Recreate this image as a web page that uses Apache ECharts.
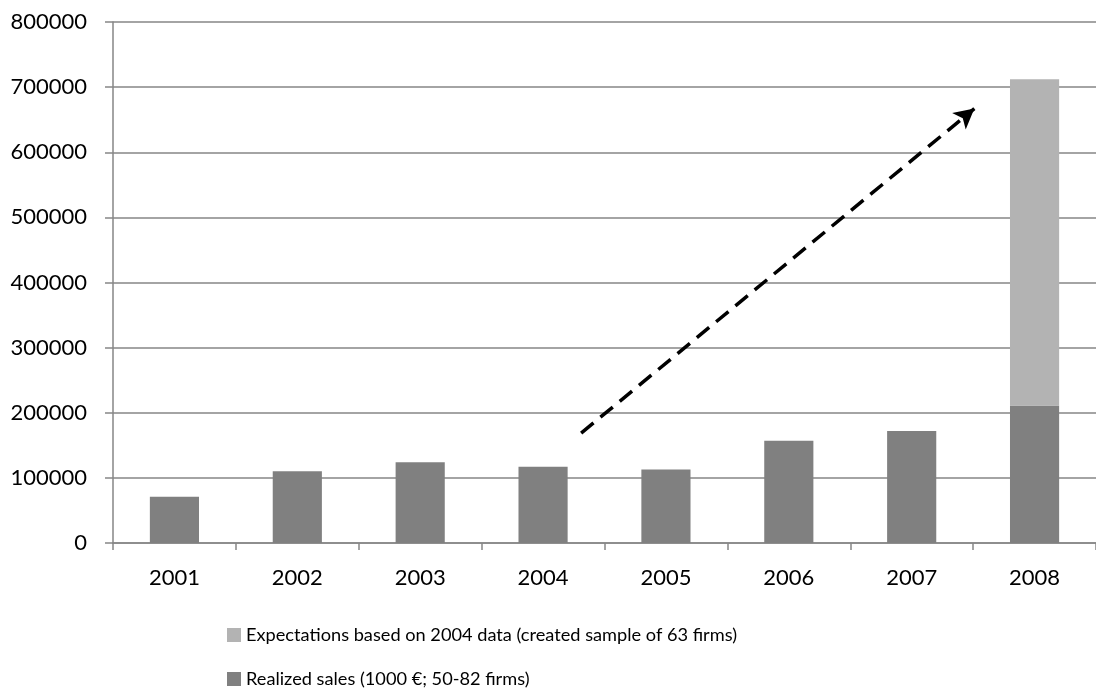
<!DOCTYPE html>
<html><head><meta charset="utf-8">
<script src="https://cdn.jsdelivr.net/npm/echarts@6/dist/echarts.min.js"></script>
<style>html,body{margin:0;padding:0;background:#fff}#c{width:1096px;height:693px}</style>
</head><body><div id="c"></div>
<script>
const categories = ['2001','2002','2003','2004','2005','2006','2007','2008'];
const realized = [71000, 110000, 124000, 117000, 113000, 157000, 172000, 211000];
const expectations = [null, null, null, null, null, null, null, 501000];
const yTicks = [0, 100000, 200000, 300000, 400000, 500000, 600000, 700000, 800000];
const arrowStart = [3.81, 168700];
const arrowEnd = [7.01, 667000];
const nameExp = 'Expectations based on 2004 data (created sample of 63 firms)';
const nameReal = 'Realized sales (1000 €; 50-82 firms)';
const FONT = 'Lato';
const chart = echarts.init(document.getElementById('c'));
chart.setOption({
  animation: false,
  textStyle: {fontFamily: FONT},
  grid: {left: 113, right: -5, top: 22, bottom: 150},
  legend: {
    orient: 'vertical', left: 227, top: 626, height: 100, padding: 0, itemGap: 26,
    itemWidth: 14, itemHeight: 14, icon: 'rect', itemStyle: {borderWidth: 0},
    data: [nameExp, nameReal],
    textStyle: {fontFamily: FONT, fontSize: 18.2, color: '#000'}
  },
  xAxis: [{
    type: 'category', data: categories,
    axisLine: {lineStyle: {color: '#868686', width: 1.5}},
    axisTick: {show: true, length: 7, lineStyle: {color: '#868686', width: 1.5}},
    axisLabel: {fontSize: 22, color: '#000', margin: 24, fontFamily: FONT}
  }, {
    type: 'value', min: 0, max: 8, show: false
  }],
  yAxis: [{
    type: 'value', min: yTicks[0], max: yTicks[yTicks.length-1], interval: 100000,
    axisLine: {show: true, lineStyle: {color: '#868686', width: 1.5}},
    axisTick: {show: true, length: 8, lineStyle: {color: '#868686', width: 1.5}},
    splitLine: {lineStyle: {color: '#868686', width: 1.5}},
    axisLabel: {fontSize: 22, color: '#000', margin: 26, fontFamily: FONT,
      formatter: v => String(v)}
  }],
  series: [{
    name: nameReal, type: 'bar', stack: 's', data: realized,
    barWidth: '40%', itemStyle: {color: '#808080'}
  }, {
    name: nameExp, type: 'bar', stack: 's', data: expectations,
    barWidth: '40%', itemStyle: {color: '#b3b3b3'}
  }, {
    type: 'line', xAxisIndex: 1, yAxisIndex: 0, data: [], silent: true,
    markLine: {
      silent: true, symbol: ['none', 'arrow'], symbolSize: [16, 20],
      label: {show: false},
      lineStyle: {color: '#000', width: 3.5, type: [16, 9]},
      data: [[{coord: arrowStart}, {coord: arrowEnd}]]
    }
  }]
});
</script></body></html>
